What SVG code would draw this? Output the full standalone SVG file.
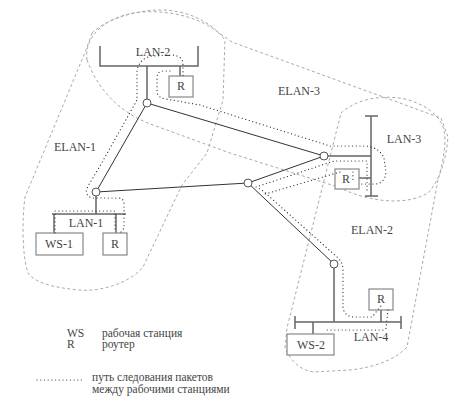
<svg xmlns="http://www.w3.org/2000/svg" width="458" height="402" viewBox="0 0 458 402">
<style>
text{font-family:"Liberation Serif","DejaVu Serif",serif;fill:#444;font-size:12px}
.c{text-anchor:middle}
.elan{fill:none;stroke:#aaa;stroke-width:1;stroke-dasharray:3,2.5}
.bus{fill:none;stroke:#666;stroke-width:1.5}
.box{fill:#fff;stroke:#888;stroke-width:1.2}
.link{fill:none;stroke:#333;stroke-width:1}
.sw{fill:#fff;stroke:#555;stroke-width:1}
.path{fill:none;stroke:#333;stroke-width:1.2;stroke-dasharray:0.1,3.6;stroke-linecap:round}
.leg{font-size:11.5px}
</style>
<rect width="458" height="402" fill="#fff"/>

<g id="elan-1">
<path class="elan" d="M92 33 C105 20,135 10,160 10 C185 10,210 20,225 40 L223 100 L207 153 L182 185 L143 267 C130 283,100 292,80 290 C55 288,35 283,28 273 C22 255,22 220,25 197 L86 50 Z"/>
<text class="c" x="75" y="151">ELAN-1</text>
</g>
<g id="elan-3">
<path class="elan" d="M87 60 C84 40,100 22,125 15 C150 8,190 12,215 30 L232 42 L441 118 L448 137 C446 160,440 180,428 193 C410 204,375 205,338 187 L230 153 L153 125 C125 115,100 95,87 60 Z"/>
<text class="c" x="299" y="95">ELAN-3</text>
</g>
<g id="elan-2">
<path class="elan" d="M341 113 C355 100,380 94,405 99 C425 104,440 115,444 130 C447 145,442 165,438 180 L407 347 C395 360,375 367,350 370 L313 372 C300 370,290 360,285 348 L287 328 Z"/>
<text class="c" x="372" y="234">ELAN-2</text>
</g>

<g id="lan-2">
<path class="bus" d="M100 46 V66 H198 V46 M147 66 V99 M180 66 V76"/>
<text class="c" x="153" y="56">LAN-2</text>
</g>
<g id="router-2">
<rect class="box" x="169" y="76" width="24" height="21"/>
<text class="c" x="181" y="90">R</text>
</g>

<g id="lan-1">
<path class="bus" d="M52 214 H126 M96 196 V214 M54 214 V233 M116 214 V233"/>
<text class="c" x="86" y="227">LAN-1</text>
</g>
<g id="ws-1">
<rect class="box" x="36" y="233" width="47" height="22"/>
<text class="c" x="59" y="248">WS-1</text>
</g>
<g id="router-1">
<rect class="box" x="103" y="233" width="24" height="22"/>
<text class="c" x="115" y="248">R</text>
</g>

<g id="lan-3">
<path class="bus" d="M365 116 H378 M371 116 V196 M365 196 H378 M328 156 H371 M359 178 H371"/>
<text class="c" x="404" y="143">LAN-3</text>
</g>
<g id="router-3">
<rect class="box" x="335" y="169" width="24" height="20"/>
<text class="c" x="346" y="183">R</text>
</g>

<g id="lan-4">
<path class="bus" d="M295 316 V329 M295 322 H401 M401 316 V329 M334 268 V322 M381 310 V322 M313 322 V334"/>
<text class="c" x="371" y="341">LAN-4</text>
</g>
<g id="router-4">
<rect class="box" x="369" y="289" width="24" height="21"/>
<text class="c" x="381" y="303">R</text>
</g>
<g id="ws-2">
<rect class="box" x="287" y="334" width="47" height="21"/>
<text class="c" x="311" y="349">WS-2</text>
</g>

<g id="connectors">
<path class="link" d="M147 103 L96 192"/>
<path class="link" d="M147 103 L324 156"/>
<path class="link" d="M96 192 L248 183"/>
<path class="link" d="M248 183 L324 156"/>
<path class="link" d="M248 183 L334 264"/>
</g>

<g id="switch-1"><circle class="sw" cx="147" cy="103" r="4"/></g>
<g id="switch-2"><circle class="sw" cx="96" cy="192" r="4"/></g>
<g id="switch-3"><circle class="sw" cx="324" cy="156" r="4"/></g>
<g id="switch-4"><circle class="sw" cx="248" cy="183" r="4"/></g>
<g id="switch-5"><circle class="sw" cx="334" cy="264" r="4"/></g>

<g id="packet-path">
<path class="path" d="M55 233 V211 H115 V232"/>
<path class="path" d="M121 232 L124 228 V204 Q124 198 118 198 H94 Q88 198 86 192 L88 186 L100 166 L137 100 V70 Q140 58 152 56 L172 55 Q183 56 183 64 V78"/>
<path class="path" d="M170 71 H162 Q157 72 157 78 V92 Q158 98 166 99 L200 105 L330 146 H366 Q380 148 384 158 L386 172 Q385 184 374 184 H361"/>
<path class="path" d="M353 172 V181"/>
<path class="path" d="M367 190 V161 H334 L256 187 L262 190 L337 257 Q343 262 343 270 V308 Q345 317 355 317 H372 L381 306"/>
<path class="path" d="M340 172 L262 195"/>
<path class="path" d="M388 310 L386 328 Q386 330 383 330 H325"/>
</g>

<g id="legend">
<text class="leg" x="67" y="337">WS</text>
<text class="leg" x="102" y="337">рабочая станция</text>
<text class="leg" x="67" y="348">R</text>
<text class="leg" x="102" y="348">роутер</text>
<path class="path" d="M37 380 H82"/>
<text class="leg" x="92" y="381">путь следования пакетов</text>
<text class="leg" x="92" y="393">между рабочими станциями</text>
</g>
</svg>
